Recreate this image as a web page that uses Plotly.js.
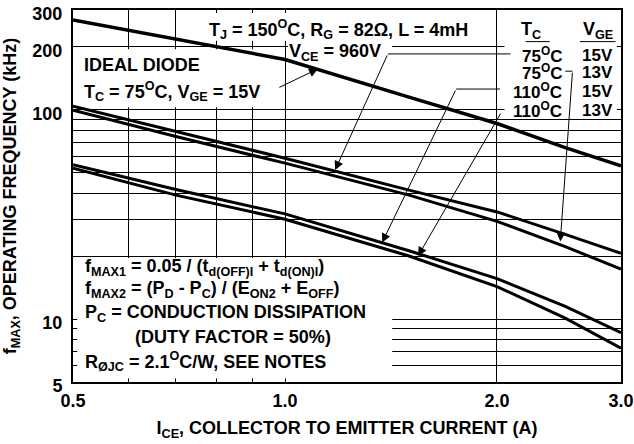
<!DOCTYPE html>
<html><head><meta charset="utf-8">
<script src="https://cdn.plot.ly/plotly-3.0.1.min.js"></script>
<style>html,body{margin:0;padding:0;background:#fff;}</style>
</head><body><div id="chart" style="width:634px;height:444px;"></div>
<script>
// ---- data ----
const currentA   = [0.5, 0.7, 1.0, 1.5, 2.0, 2.5, 3.0];
const idealDiode = [269, 218, 174, 115, 86, 66, 54];
const tc75vge15  = [104, 78.5, 58.7, 41.3, 32.5, 25.4, 20.6];
const tc75vge13  = [99.5, 74.5, 55.6, 39.1, 29.3, 22.2, 17.3];
const tc110vge15 = [54.7, 41.6, 31.8, 21.2, 15.6, 11.5, 8.6];
const tc110vge13 = [52.6, 39.1, 30.0, 20.0, 14.3, 10.1, 7.25];
const xTickVals = [0.5, 0.6, 0.7, 0.8, 0.9, 1.0, 2.0, 3.0];
const xTickText = ['0.5', '', '', '', '', '1.0', '2.0', '3.0'];
const yTickVals = [5, 6, 7, 8, 9, 10, 20, 30, 40, 50, 60, 70, 80, 90, 100, 200, 300];
const yTickText = ['5', '', '', '', '', '10', '', '', '', '', '', '', '', '', '100', '200', '300'];

const FAM = 'Liberation Sans, Arial, Helvetica, sans-serif';
const FS = 18;
const font = {family: FAM, size: FS, color: '#000', weight: 'bold'};
const fontLeg = {family: FAM, size: 17, color: '#000', weight: 'bold'};

function line(y, w) {
  return {x: currentA, y: y, type: 'scatter', mode: 'lines', showlegend: false,
          line: {color: '#000', width: w}, hoverinfo: 'skip'};
}
const traces = [line(idealDiode, 3.5), line(tc75vge15, 3), line(tc75vge13, 3),
                line(tc110vge15, 3), line(tc110vge13, 3)];

function box(x0, x1, y0, y1) {
  return {type: 'rect', xref: 'x', yref: 'y', x0: x0, x1: x1, y0: y0, y1: y1,
          fillcolor: '#fff', line: {width: 0}, layer: 'between'};
}
function seg(x0, y0, x1, y1, xr, yr) {
  return {type: 'line', xref: xr || 'x', yref: yr || 'y', x0: x0, y0: y0, x1: x1, y1: y1,
          line: {color: '#000', width: 1}, layer: 'above'};
}
const shapes = [
  box(0.505, 0.98, 103, 195),     // IDEAL DIODE
  box(0.77, 1.92, 214, 290),      // TJ text
  box(1.01, 1.42, 168, 214),      // VCE text
  box(2.05, 2.96, 95, 298),       // legend
  box(0.507, 1.42, 5.2, 19.6),    // formula block
  seg(1.40, 185, 2.09, 185),
  seg(1.75, 125.7, 2.02, 125.7),
  seg(2.50, 153, 2.56, 153),
  seg(0.826, 0.915, 0.870, 0.915, 'paper', 'paper'),
  seg(0.925, 0.915, 0.990, 0.915, 'paper', 'paper')
];

const L = Math.log10;
function arrow(tx, ty, hx, hy) {
  return {xref: 'x', yref: 'y', axref: 'x', ayref: 'y', x: L(tx), y: L(ty), ax: L(hx), ay: L(hy),
          text: '', showarrow: true, arrowhead: 2, arrowsize: 1.8, arrowwidth: 1, arrowcolor: '#000'};
}
function txt(t, x, y, xa, f) {
  return {xref: 'paper', yref: 'paper', x: x, y: y, xanchor: xa || 'left', yanchor: 'middle',
          text: t, showarrow: false, font: f || font};
}
const deg = '<sup>O</sup>';
const annotations = [
  txt('T<sub>J</sub> = 150' + deg + 'C, R<sub>G</sub> = 82Ω, L = 4mH', 0.2445, 0.947),
  txt('V<sub>CE</sub> = 960V', 0.3905, 0.886),
  txt('IDEAL DIODE', 0.0164, 0.852),
  txt('T<sub>C</sub> = 75' + deg + 'C, V<sub>GE</sub> = 15V', 0.0164, 0.78),
  txt('T<sub>C</sub>', 0.8358, 0.946, 'center'),
  txt('V<sub>GE</sub>', 0.958, 0.946, 'center'),
  txt('75' + deg + 'C', 0.896, 0.879, 'right', fontLeg),
  txt('75' + deg + 'C', 0.896, 0.832, 'right', fontLeg),
  txt('110' + deg + 'C', 0.896, 0.782, 'right', fontLeg),
  txt('110' + deg + 'C', 0.896, 0.731, 'right', fontLeg),
  txt('15V', 0.9252, 0.879, 'left', fontLeg), txt('13V', 0.9252, 0.832, 'left', fontLeg),
  txt('15V', 0.9252, 0.782, 'left', fontLeg), txt('13V', 0.9252, 0.731, 'left', fontLeg),
  txt('f<sub>MAX1</sub> = 0.05 / (t<sub>d(OFF)I</sub> + t<sub>d(ON)I</sub>)', 0.018, 0.309),
  txt('f<sub>MAX2</sub> = (P<sub>D</sub> - P<sub>C</sub>) / (E<sub>ON2</sub> + E<sub>OFF</sub>)', 0.018, 0.25),
  txt('P<sub>C</sub> = CONDUCTION DISSIPATION', 0.018, 0.183),
  txt('(DUTY FACTOR = 50%)', 0.1095, 0.121),
  txt('R<sub>ØJC</sub> = 2.1' + deg + 'C/W, SEE NOTES', 0.018, 0.054),
  arrow(1.114, 157, 0.977, 127),
  arrow(1.178, 51.5, 1.40, 185),
  arrow(2.46, 23.5, 2.56, 153),
  arrow(1.374, 23.2, 1.75, 125.7),
  arrow(1.545, 20.0, 2.03, 97.6)
];

const axisCommon = {
  type: 'log', showgrid: true, gridcolor: '#000', gridwidth: 1, zeroline: false,
  showline: true, mirror: true, linecolor: '#000', linewidth: 2, ticks: '',
  tickmode: 'array', tickfont: font, ticklabeloverflow: 'allow'
};
const layout = {
  width: 634, height: 444, margin: {l: 73, r: 13, t: 10, b: 62},
  paper_bgcolor: '#fff', plot_bgcolor: '#fff', font: font, showlegend: false,
  xaxis: Object.assign({}, axisCommon, {
    range: [L(0.5) - 1e-5, L(3.0) + 1e-5], tickvals: xTickVals, ticktext: xTickText,
    ticklabelstandoff: 1,
    title: {text: 'I<sub>CE</sub>, COLLECTOR TO EMITTER CURRENT (A)', font: font, standoff: 12}
  }),
  yaxis: Object.assign({}, axisCommon, {
    range: [L(5) - 1e-5, L(300) + 1e-5], tickvals: yTickVals, ticktext: yTickText,
    ticklabelshift: 4, ticklabelstandoff: 5,
    title: {text: 'f<sub>MAX</sub>, OPERATING FREQUENCY (kHz)', font: font, standoff: 16}
  }),
  shapes: shapes, annotations: annotations
};
Plotly.newPlot('chart', traces, layout, {displayModeBar: false, staticPlot: true});
</script></body></html>
